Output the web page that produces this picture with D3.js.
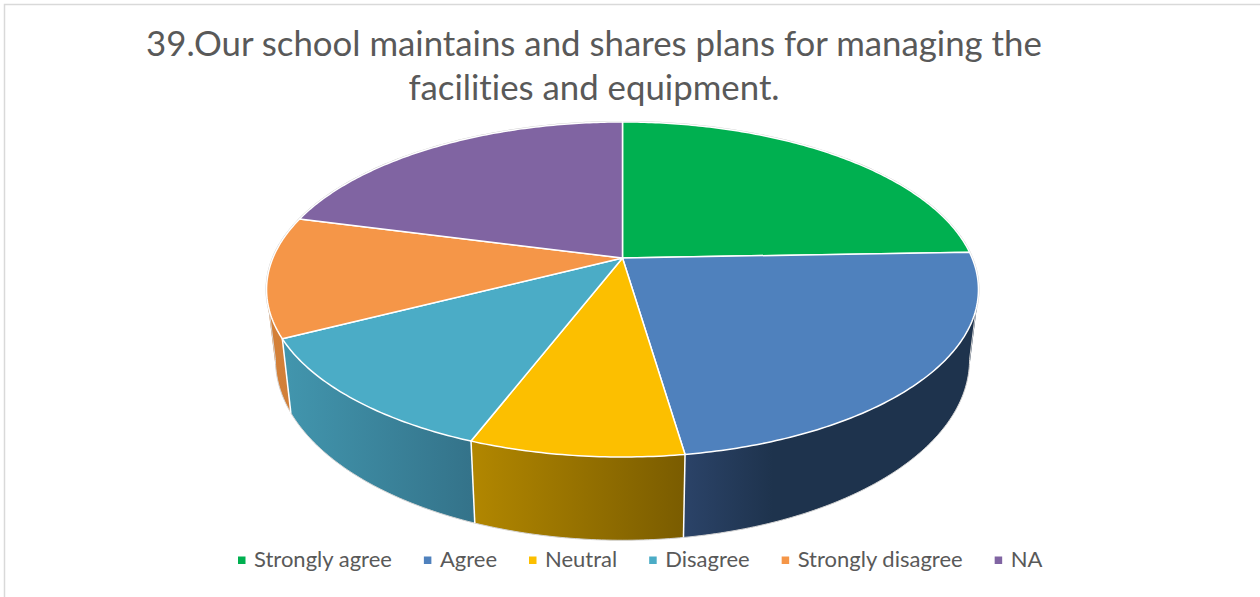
<!DOCTYPE html>
<html>
<meta charset="utf-8">
<style>
  body { margin: 0; background: #fff; }
  svg { display: block; }
  text { font-family: Lato, "Open Sans", sans-serif; fill: #595959; font-variant-ligatures: none; }
  .title { font-size: 34.8px; text-anchor: middle; }
  .legend text { font-size: 22px; }
</style>
<body>
<script src="https://cdnjs.cloudflare.com/ajax/libs/d3/7.8.5/d3.min.js"></script>
<script>
var titleLines = ["39.Our school maintains and shares plans for managing the", "facilities and equipment."];
var categories = ["Strongly agree", "Agree", "Neutral", "Disagree", "Strongly disagree", "NA"];
var counts = [21, 20, 7, 10, 10, 18];
var topColors = ["#00b050", "#4f81bd", "#fcbf00", "#4bacc6", "#f59648", "#8064a2"];
// side wall shading, left to right
var wallLeft = ["#008a3f", "#2b4368", "#b28700", "#4296ae", "#d58036", "#64487f"];
var wallRight = ["#006b31", "#1e334d", "#7a5c00", "#34738a", "#cf7f3b", "#4d3a66"];

var width = 1260, height = 597;

// pie is a tilted disc: circle mapped through a perspective, hub sits above ellipse centre
var cx = 622.5, hubY = 258;
var persp = -0.188, ya = 161.6, xa = 349.6;

// angles where the wall outline leaves the disc, left and right
var edgeR = Math.PI - Math.acos(-persp), edgeL = 2 * Math.PI - edgeR;

function project(a) {
  var u = Math.sin(a), v = -Math.cos(a), w = 1 + persp * v;
  return [cx + xa * u / w, hubY + ya * v / w];
}
function drop(p) {
  // wall gets taller towards the viewer and narrows a bit
  return [cx + 0.975 * (p[0] - cx), p[1] + 47.6 + 0.078 * p[1]];
}
function samples(a0, a1) {
  var n = Math.max(2, Math.ceil((a1 - a0) * 80));
  return d3.range(n + 1).map(function(i) { return a0 + (a1 - a0) * i / n; });
}

var svg = d3.select("body").append("svg")
    .attr("width", width)
    .attr("height", height);

var defs = svg.append("defs");

// frame
svg.append("path")
    .attr("d", "M4.5," + height + "V4.5H" + width)
    .attr("fill", "none")
    .attr("stroke", "#d9d9d9")
    .attr("stroke-width", 1.5);

svg.selectAll(".title")
    .data(titleLines)
  .enter().append("text")
    .attr("class", "title")
    .attr("x", 594)
    .attr("y", function(d, i) { return 56 + i * 44; })
    .text(function(d) { return d; });

var slices = d3.pie().sort(null)(counts);
var line = d3.line();

slices.forEach(function(s, i) {
  var pts = samples(s.startAngle, s.endAngle).map(project);
  var xs = d3.extent(pts, function(p) { return p[0]; });
  var g = defs.append("linearGradient")
      .attr("id", "wall" + i)
      .attr("gradientUnits", "userSpaceOnUse")
      .attr("x1", xs[0]).attr("x2", xs[1])
      .attr("y1", 0).attr("y2", 0);
  g.append("stop").attr("offset", 0).attr("stop-color", wallLeft[i]);
  // the big blue wall reaches its dark tone early
  if (i == 1) g.append("stop").attr("offset", 0.3).attr("stop-color", wallRight[i]);
  g.append("stop").attr("offset", 1).attr("stop-color", wallRight[i]);
});

// outline of the whole disc, shows as a thin grey edge
var allAngles = samples(0, 2 * Math.PI);
svg.append("path")
    .attr("d", line(allAngles.map(project)) + "Z")
    .attr("fill", "none")
    .attr("stroke", "#c8c8c8")
    .attr("stroke-width", 2);

var walls = svg.append("g").attr("class", "walls");
var tops = svg.append("g").attr("class", "tops");

slices.forEach(function(s, i) {
  var as = samples(s.startAngle, s.endAngle);
  var d = "";
  for (var k = 0; k < as.length - 1; k++) {
    var p0 = project(as[k]), p1 = project(as[k + 1]);
    var quad = [p0, p1, drop(p1), drop(p0)];
    if (d3.polygonArea(quad) < 0) quad.reverse();
    d += line(quad) + "Z";
  }
  walls.append("path")
      .attr("d", d)
      .attr("fill", "url(#wall" + i + ")");
});

// light edge round the lower rim and down the two sides
var lower = samples(edgeR, edgeL).map(function(a) { return drop(project(a)); });
walls.append("path")
    .attr("d", line([project(edgeR)].concat(lower, [project(edgeL)])))
    .attr("fill", "none")
    .attr("stroke", "#d4d4d4")
    .attr("stroke-width", 1);

// white seams between walls, only on the front half
slices.forEach(function(s) {
  var a = s.startAngle;
  if (Math.cos(a) < -0.1) {
    walls.append("path")
        .attr("d", line([project(a), drop(project(a))]))
        .attr("stroke", "#fff")
        .attr("stroke-width", 1.5);
  }
});

slices.forEach(function(s, i) {
  var rim = samples(s.startAngle, s.endAngle).map(project);
  tops.append("path")
      .attr("d", line([[cx, hubY]].concat(rim)) + "Z")
      .attr("fill", topColors[i])
      .attr("stroke", "#fff")
      .attr("stroke-width", 1.5)
      .attr("stroke-linejoin", "round");
});

// legend flows left to right from its first swatch
var legend = svg.append("g").attr("class", "legend");
var lx = 238;
categories.forEach(function(c, i) {
  legend.append("rect")
      .attr("x", lx).attr("y", 556.5)
      .attr("width", 7.5).attr("height", 7.5)
      .attr("fill", topColors[i]);
  var t = legend.append("text")
      .attr("x", lx + 16)
      .attr("y", 567)
      .text(c);
  lx += 16 + t.node().getComputedTextLength() + 32;
});
</script>
</body>
</html>
